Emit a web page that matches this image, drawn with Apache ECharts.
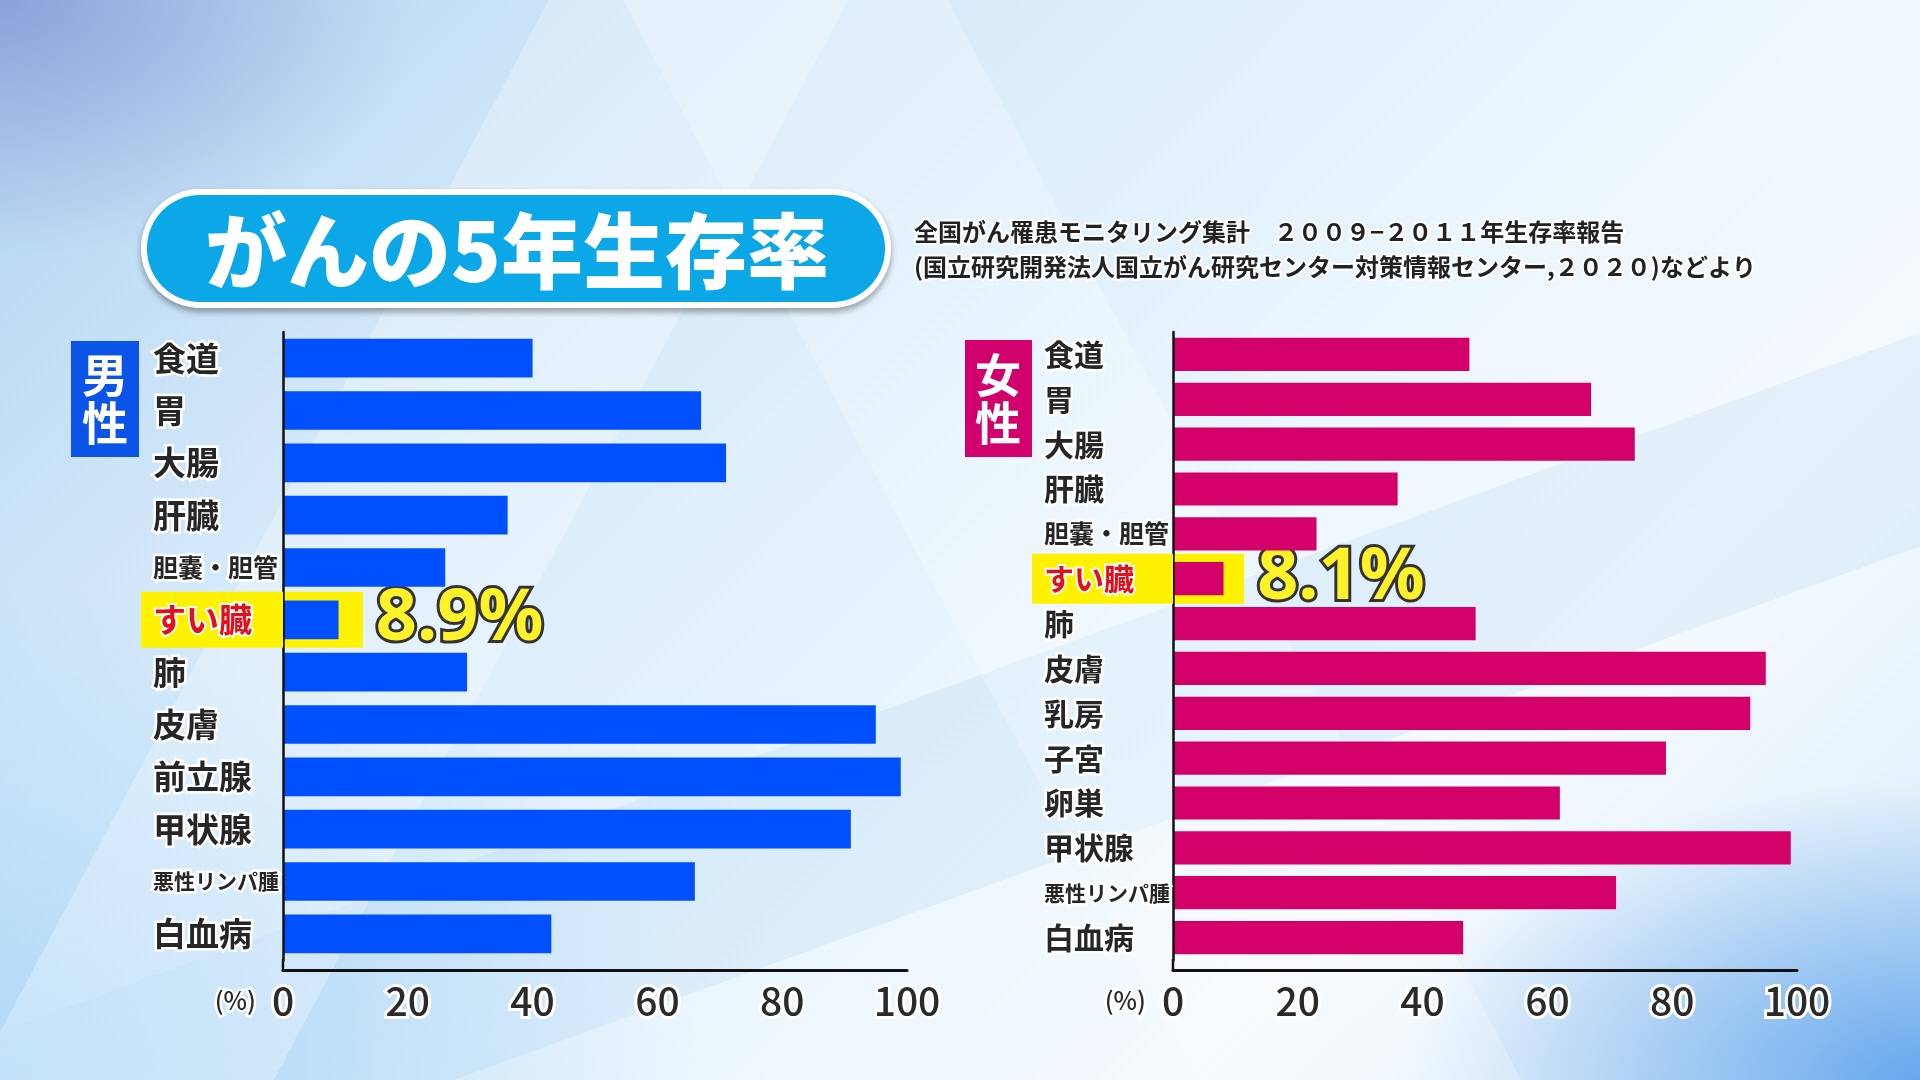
<!DOCTYPE html>
<html lang="ja">
<head>
<meta charset="utf-8">
<title>がんの5年生存率</title>
<script src="https://cdn.jsdelivr.net/npm/echarts@6/dist/echarts.min.js"></script>
<style>
  html, body { margin: 0; padding: 0; }
  body {
    width: 1920px; height: 1080px; overflow: hidden;
    background:
      linear-gradient(118deg, transparent 22%, rgba(255,255,255,0.28) 22%, rgba(255,255,255,0.28) 34%, transparent 34%),
      linear-gradient(62deg, transparent 48%, rgba(255,255,255,0.22) 48%, rgba(255,255,255,0.22) 61%, transparent 61%),
      linear-gradient(160deg, transparent 58%, rgba(150,200,240,0.18) 58%, rgba(150,200,240,0.18) 70%, transparent 70%),
      radial-gradient(ellipse 420px 260px at 0% 0%, rgba(110,120,200,0.55), transparent),
      radial-gradient(ellipse 520px 300px at 100% 100%, rgba(40,130,230,0.65), transparent),
      radial-gradient(ellipse 700px 500px at 0% 100%, rgba(140,200,245,0.55), transparent),
      linear-gradient(135deg, #b2d4f1 0%, #d6eafa 28%, #eaf5fd 55%, #f5fafe 75%, #dcedfa 100%);
  }
  #chart { width: 1920px; height: 1080px; }
</style>
</head>
<body>
<div id="chart"></div>
<script>
// がんの5年生存率 (全国がん罹患モニタリング集計 2009-2011)
const maleCategories = ['食道', '胃', '大腸', '肝臓', '胆嚢・胆管', 'すい臓', '肺', '皮膚', '前立腺', '甲状腺', '悪性リンパ腫', '白血病'];
const maleValues = [40, 67, 71, 36, 26, 8.9, 29.5, 95, 99, 91, 66, 43];

const femaleCategories = ['食道', '胃', '大腸', '肝臓', '胆嚢・胆管', 'すい臓', '肺', '皮膚', '乳房', '子宮', '卵巣', '甲状腺', '悪性リンパ腫', '白血病'];
const femaleValues = [47.5, 67, 74, 36, 23, 8.1, 48.5, 95, 92.5, 79, 62, 99, 71, 46.5];

const xTicks = [0, 20, 40, 60, 80, 100];
const focusCategory = 'すい臓';

const FONT = '"Noto Sans CJK JP", "Noto Sans", sans-serif';
const MALE_COLOR = '#0050ff';
const FEMALE_COLOR = '#d4006a';

const chart = echarts.init(document.getElementById('chart'));

function yLabelRich(fontSize, boxWidth, boxHeight) {
    const base = {
        width: boxWidth, align: 'left', fontSize: fontSize, fontWeight: 'bold', fontFamily: FONT,
        color: '#262626', textBorderColor: '#ffffff', textBorderWidth: 5
    };
    return {
        n: base,
        s: Object.assign({}, base, { fontSize: 25 }),
        xs: Object.assign({}, base, { fontSize: 21 }),
        hl: Object.assign({}, base, {
            padding: [0, 0, 0, 12], color: '#e0101c',
            backgroundColor: '#fff200', height: boxHeight, lineHeight: boxHeight,
            textBorderWidth: 4
        })
    };
}

function labelFormatter(value) {
    if (value === focusCategory) return '{hl|' + value + '}';
    if (value === '悪性リンパ腫') return '{xs|' + value + '}';
    if (value === '胆嚢・胆管') return '{s|' + value + '}';
    return '{n|' + value + '}';
}

function makeXAxis(gridIndex) {
    return {
        gridIndex: gridIndex, type: 'value', min: xTicks[0], max: xTicks[xTicks.length - 1],
        interval: xTicks[1] - xTicks[0], offset: 10,
        axisLine: { show: true, lineStyle: { color: '#111', width: 3 } },
        axisTick: { show: false }, splitLine: { show: false },
        axisLabel: {
            margin: 12, fontSize: 39, fontFamily: FONT, fontWeight: 500, color: '#2a2a2a',
            textBorderColor: '#fff', textBorderWidth: 6
        },
        name: '(%)', nameLocation: 'start', nameGap: 27,
        nameTextStyle: {
            fontSize: 25, fontFamily: FONT, fontWeight: 500, color: '#2a2a2a',
            textBorderColor: '#fff', textBorderWidth: 5, verticalAlign: 'top', lineHeight: 60
        }
    };
}

function makeYAxis(gridIndex, cats, fontSize, boxWidth, boxHeight) {
    return {
        gridIndex: gridIndex, type: 'category', data: cats, inverse: true, z: 5,
        axisLine: { show: true, lineStyle: { color: '#111', width: 2.5 } },
        axisTick: { show: false },
        axisLabel: {
            interval: 0, margin: 0, align: 'right',
            formatter: labelFormatter, rich: yLabelRich(fontSize, boxWidth, boxHeight)
        }
    };
}

function hiddenYAxis(gridIndex, cats) {
    return { gridIndex: gridIndex, type: 'category', data: cats, inverse: true, show: false };
}

function highlightSeries(axisIdx, cats, values, reach, barWidth) {
    return {
        type: 'bar', xAxisIndex: axisIdx, yAxisIndex: axisIdx * 2 + 1, z: 1,
        barWidth: barWidth, silent: true,
        data: cats.map(c => (c === focusCategory ? reach : null)),
        itemStyle: { color: '#fff200' },
        label: {
            show: true, position: 'right', distance: 13,
            formatter: p => values[p.dataIndex] + '%',
            fontSize: 72, fontWeight: 'bold', fontFamily: '"Noto Sans", ' + FONT,
            color: '#fff22a', textBorderColor: '#333', textBorderWidth: 6
        }
    };
}

const GRID_TOP = 332, GRID_H = 628, GRID_W = 624;
const MALE_LEFT = 283, FEMALE_LEFT = 1173;

const option = {
    animation: false,
    grid: [
        { left: MALE_LEFT, top: GRID_TOP, width: GRID_W, height: GRID_H },
        { left: FEMALE_LEFT, top: GRID_TOP, width: GRID_W, height: GRID_H }
    ],
    xAxis: [makeXAxis(0), makeXAxis(1)],
    yAxis: [
        makeYAxis(0, maleCategories, 33, 130, 56),
        hiddenYAxis(0, maleCategories),
        makeYAxis(1, femaleCategories, 30, 129, 50),
        hiddenYAxis(1, femaleCategories)
    ],
    series: [
        highlightSeries(0, maleCategories, maleValues, 12.8, 56),
        {
            name: '男性', type: 'bar', xAxisIndex: 0, yAxisIndex: 0, z: 2,
            data: maleValues, barCategoryGap: '26%',
            itemStyle: { color: MALE_COLOR }
        },
        highlightSeries(1, femaleCategories, femaleValues, 11.4, 50),
        {
            name: '女性', type: 'bar', xAxisIndex: 1, yAxisIndex: 2, z: 2,
            data: femaleValues, barCategoryGap: '26%',
            itemStyle: { color: FEMALE_COLOR }
        }
    ],
    graphic: [
        // title pill
        {
            type: 'rect', shape: { x: 141, y: 189, width: 750, height: 119, r: 59 },
            style: { fill: '#ffffff', shadowBlur: 6, shadowOffsetY: 4, shadowColor: 'rgba(0,0,0,0.35)' }
        },
        {
            type: 'rect', shape: { x: 147, y: 195, width: 738, height: 107, r: 53 },
            style: { fill: '#0ba7e6' }
        },
        {
            type: 'text', x: 517, y: 251,
            style: {
                text: 'がんの5年生存率', fill: '#ffffff', align: 'center', verticalAlign: 'middle',
                font: '900 82px ' + FONT,
                shadowColor: 'rgba(0,40,80,0.45)', shadowBlur: 3, shadowOffsetX: 2, shadowOffsetY: 2
            }
        },
        // source
        {
            type: 'text', x: 914, y: 232,
            style: {
                text: '全国がん罹患モニタリング集計　２００９−２０１１年生存率報告',
                fill: '#222', stroke: '#fff', lineWidth: 4, align: 'left', verticalAlign: 'middle',
                font: 'bold 24px ' + FONT
            }
        },
        {
            type: 'text', x: 914, y: 267,
            style: {
                text: '(国立研究開発法人国立がん研究センター対策情報センター,２０２０)などより',
                fill: '#222', stroke: '#fff', lineWidth: 4, align: 'left', verticalAlign: 'middle',
                font: 'bold 24px ' + FONT
            }
        },
        // 男性 / 女性 tags
        { type: 'rect', shape: { x: 71, y: 341, width: 68, height: 116 }, style: { fill: '#0a55e8' } },
        {
            type: 'text', x: 105, y: 399,
            style: { text: '男\n性', fill: '#fff', align: 'center', verticalAlign: 'middle', font: 'bold 46px ' + FONT, lineHeight: 48 }
        },
        { type: 'rect', shape: { x: 965, y: 340, width: 67, height: 117 }, style: { fill: '#d1006c' } },
        {
            type: 'text', x: 998, y: 399,
            style: { text: '女\n性', fill: '#fff', align: 'center', verticalAlign: 'middle', font: 'bold 46px ' + FONT, lineHeight: 48 }
        },
        // close the gap between y axis and offset x axis
        { type: 'line', shape: { x1: MALE_LEFT, y1: GRID_TOP + GRID_H - 1, x2: MALE_LEFT, y2: GRID_TOP + GRID_H + 11 }, style: { stroke: '#111', lineWidth: 2.5 } },
        { type: 'line', shape: { x1: FEMALE_LEFT, y1: GRID_TOP + GRID_H - 1, x2: FEMALE_LEFT, y2: GRID_TOP + GRID_H + 11 }, style: { stroke: '#111', lineWidth: 2.5 } }
    ]
};

chart.setOption(option);
window.addEventListener('resize', () => chart.resize());
</script>
</body>
</html>
